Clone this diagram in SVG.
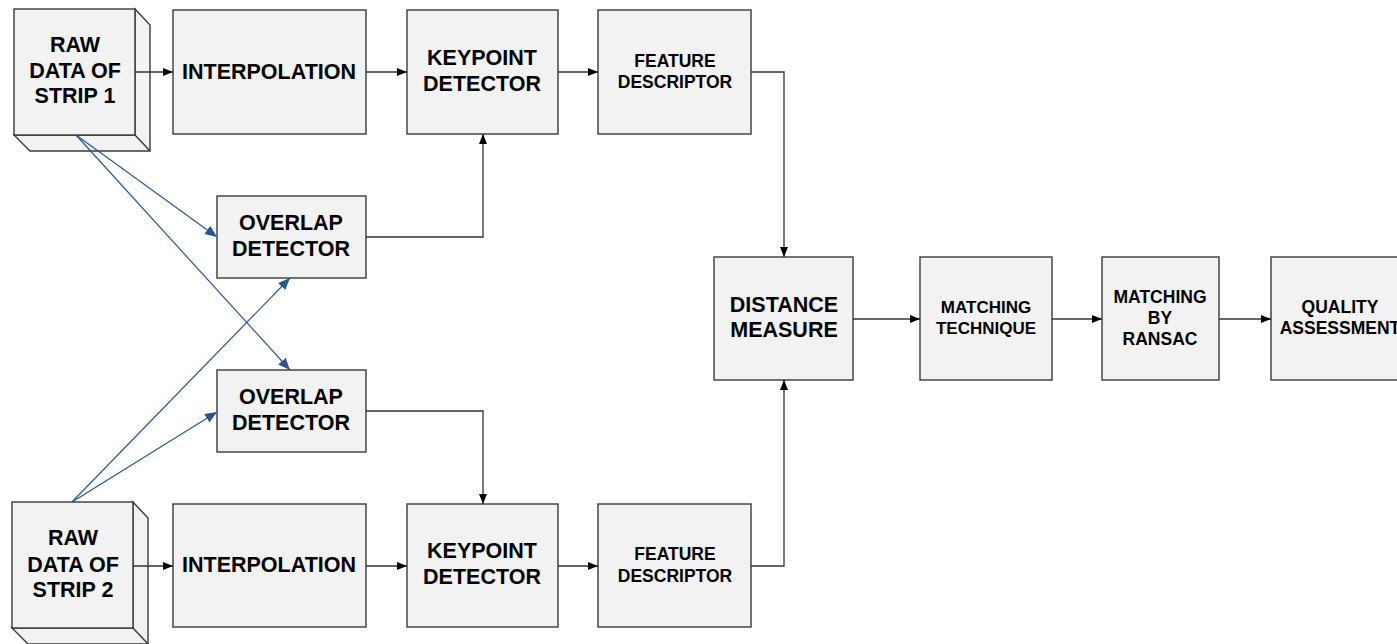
<svg xmlns="http://www.w3.org/2000/svg" width="1397" height="644" viewBox="0 0 1397 644">
<style>
.box{fill:#f2f2f2;stroke:#3a3a3a;stroke-width:1.4}
.t{font-family:"Liberation Sans",Arial,sans-serif;font-weight:bold;fill:#000;text-anchor:middle}
.l{font-size:21.5px}
.s{font-size:17.5px}
.c{fill:none;stroke:#333;stroke-width:1.3}
.b{fill:none;stroke:#2b5592;stroke-width:1.2}
</style>
<defs>
<marker id="ak" markerUnits="userSpaceOnUse" markerWidth="11" markerHeight="9" refX="10" refY="4" orient="auto"><path d="M0,0 L10,4 L0,8 z" fill="#000"/></marker>
<marker id="ab" markerUnits="userSpaceOnUse" markerWidth="13" markerHeight="11" refX="12" refY="5" orient="auto"><path d="M0,0 L12,5 L0,10 z" fill="#2b5592"/></marker>
</defs>
<rect width="1397" height="644" fill="#fff"/>
<g id="strip1">
<path class="box" d="M135,9 L150,25 V151 H30 L14,135 H135 Z"/>
<path class="box" d="M135,135 L150,151"/>
<rect class="box" x="14" y="9" width="121" height="126"/>
<text class="t l" x="75" y="52">RAW</text>
<text class="t l" x="75" y="78">DATA OF</text>
<text class="t l" x="75" y="103">STRIP 1</text>
</g>
<g id="strip2">
<path class="box" d="M133,502 L148,518 V644 H28 L12,628 H133 Z"/>
<path class="box" d="M133,628 L148,644"/>
<rect class="box" x="12" y="502" width="121" height="126"/>
<text class="t l" x="73" y="545">RAW</text>
<text class="t l" x="73" y="572">DATA OF</text>
<text class="t l" x="73" y="597">STRIP 2</text>
</g>
<g id="interp1">
<rect class="box" x="173" y="10" width="193" height="124"/>
<text class="t l" x="269" y="79">INTERPOLATION</text>
</g>
<g id="interp2">
<rect class="box" x="173" y="504" width="193" height="123"/>
<text class="t l" x="269" y="572">INTERPOLATION</text>
</g>
<g id="keypoint1">
<rect class="box" x="407" y="10" width="151" height="124"/>
<text class="t l" x="482" y="65">KEYPOINT</text>
<text class="t l" x="482" y="91">DETECTOR</text>
</g>
<g id="keypoint2">
<rect class="box" x="407" y="504" width="151" height="123"/>
<text class="t l" x="482" y="558">KEYPOINT</text>
<text class="t l" x="482" y="584">DETECTOR</text>
</g>
<g id="feature1">
<rect class="box" x="598" y="10" width="153" height="124"/>
<text class="t s" x="675" y="67">FEATURE</text>
<text class="t s" x="675" y="88">DESCRIPTOR</text>
</g>
<g id="feature2">
<rect class="box" x="598" y="504" width="153" height="123"/>
<text class="t s" x="675" y="560">FEATURE</text>
<text class="t s" x="675" y="582">DESCRIPTOR</text>
</g>
<g id="overlap1">
<rect class="box" x="217" y="196" width="149" height="82"/>
<text class="t l" x="291" y="230">OVERLAP</text>
<text class="t l" x="291" y="256">DETECTOR</text>
</g>
<g id="overlap2">
<rect class="box" x="217" y="370" width="149" height="82"/>
<text class="t l" x="291" y="404">OVERLAP</text>
<text class="t l" x="291" y="430">DETECTOR</text>
</g>
<g id="distance">
<rect class="box" x="714" y="257" width="139" height="123"/>
<text class="t l" x="784" y="312">DISTANCE</text>
<text class="t l" x="784" y="337">MEASURE</text>
</g>
<g id="matching">
<rect class="box" x="920" y="257" width="132" height="123"/>
<text class="t" x="986" y="313" font-size="17">MATCHING</text>
<text class="t" x="986" y="334" font-size="17">TECHNIQUE</text>
</g>
<g id="ransac">
<rect class="box" x="1102" y="257" width="117" height="123"/>
<text class="t s" x="1160" y="303">MATCHING</text>
<text class="t s" x="1160" y="324">BY</text>
<text class="t s" x="1160" y="345">RANSAC</text>
</g>
<g id="quality">
<rect class="box" x="1271" y="257" width="140" height="123"/>
<text class="t s" x="1340" y="313">QUALITY</text>
<text class="t s" x="1340" y="334">ASSESSMENT</text>
</g>
<g id="connectors">
<path class="c" d="M135,72 H173" marker-end="url(#ak)"/>
<path class="c" d="M366,72 H407" marker-end="url(#ak)"/>
<path class="c" d="M558,72 H598" marker-end="url(#ak)"/>
<path class="c" d="M751,72 H784 V257" marker-end="url(#ak)"/>
<path class="c" d="M366,237 H483 V134" marker-end="url(#ak)"/>
<path class="c" d="M133,566 H173" marker-end="url(#ak)"/>
<path class="c" d="M366,566 H407" marker-end="url(#ak)"/>
<path class="c" d="M558,566 H598" marker-end="url(#ak)"/>
<path class="c" d="M751,566 H784 V380" marker-end="url(#ak)"/>
<path class="c" d="M366,411 H483 V504" marker-end="url(#ak)"/>
<path class="c" d="M853,319 H920" marker-end="url(#ak)"/>
<path class="c" d="M1052,319 H1102" marker-end="url(#ak)"/>
<path class="c" d="M1219,319 H1271" marker-end="url(#ak)"/>
<path class="b" d="M76,135 L217,237" marker-end="url(#ab)"/>
<path class="b" d="M76,135 L290,370" marker-end="url(#ab)"/>
<path class="b" d="M72,502 L290,278" marker-end="url(#ab)"/>
<path class="b" d="M72,502 L217,412" marker-end="url(#ab)"/>
</g>
</svg>
